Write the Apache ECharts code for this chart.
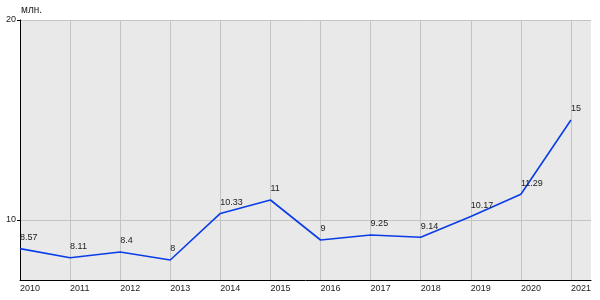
<!DOCTYPE html>
<html><head><meta charset="utf-8">
<script src="https://cdn.jsdelivr.net/npm/echarts@6/dist/echarts.min.js"></script>
<style>html,body{margin:0;padding:0;background:#fff}#c{width:600px;height:300px}</style>
</head><body><div id="c"></div>
<script>
const years = [2010, 2011, 2012, 2013, 2014, 2015, 2016, 2017, 2018, 2019, 2020, 2021];
const values = [8.57, 8.11, 8.4, 8, 10.33, 11, 9, 9.25, 9.14, 10.17, 11.29, 15];
const yTicks = [10, 20];
const yUnit = 'млн.';

const chart = echarts.init(document.getElementById('c'), null, {renderer: 'canvas'});
const font = 'Liberation Sans, Arial, sans-serif';
chart.setOption({
  animation: false,
  grid: {left: 20, right: 9, top: 20, bottom: 20, show: true, backgroundColor: '#e9e9e9', borderWidth: 0},
  xAxis: {
    type: 'value', min: 2010, max: 2021.4, interval: 1,
    axisLine: {show: true, lineStyle: {color: '#000', width: 1}},
    axisTick: {show: false, customValues: years},
    axisLabel: {customValues: years, color: '#222', fontSize: 9, fontFamily: font, align: 'left', margin: 4,
      formatter: v => String(v)},
    splitLine: {show: true, lineStyle: {color: '#c4c4c4', width: 1}}
  },
  yAxis: {
    type: 'value', min: 7, max: 20,
    name: yUnit, nameLocation: 'end', nameGap: -5,
    nameTextStyle: {color: '#222', fontSize: 10, fontFamily: font, align: 'left', verticalAlign: 'bottom', padding: [0, 0, 0, 1]},
    axisLine: {show: true, lineStyle: {color: '#000', width: 1}},
    axisTick: {show: true, length: 3, customValues: yTicks, lineStyle: {color: '#000'}},
    axisLabel: {customValues: yTicks, color: '#222', fontSize: 9, fontFamily: font, margin: 4, verticalAlign: 'middle', padding: [0, 0, 8, 0]},
    splitLine: {show: true, lineStyle: {color: '#c4c4c4', width: 1}}
  },
  series: [{
    type: 'line',
    data: years.map((y, i) => [y, values[i]]),
    showSymbol: true,
    symbol: 'circle',
    symbolSize: 1,
    itemStyle: {color: 'rgba(0,0,0,0)'},
    lineStyle: {color: '#0a3de8', width: 1.6},
    label: {show: true, position: 'top', align: 'left', distance: 6, color: '#222', fontSize: 9, fontFamily: font,
      formatter: p => String(p.value[1])}
  }]
});
</script></body></html>
